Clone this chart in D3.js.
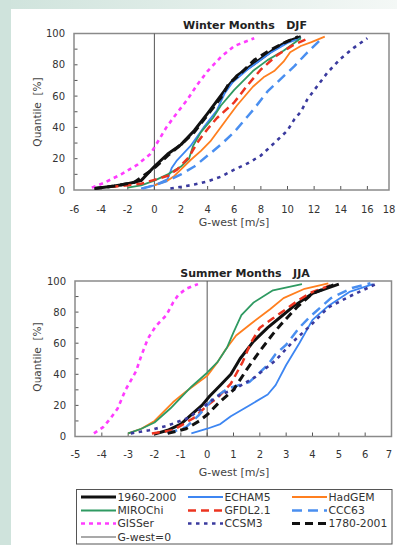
<!DOCTYPE html>
<html>
<head>
<meta charset="utf-8">
<script src="https://cdn.jsdelivr.net/npm/d3@7"></script>
<style>
  html, body { margin: 0; padding: 0; background: #fff; }
  svg { display: block; font-family: "DejaVu Sans", Verdana, sans-serif; }
</style>
</head>
<body>
<svg id="chart" width="397" height="545"></svg>
<script>
// Quantile curves of the westerly geostrophic wind index, [G-west (m/s), quantile (%)]

// Winter months (DJF)
const djf_obs_1960 = [[-4.5,1],[-3,2.5],[-2,4],[-1,6],[0,15],[1,23],[2,29],[3,38],[4,49],[4.7,57],[5.5,66],[6.2,73],[7.7,82],[9,90],[10,95],[11,98]];
const djf_echam5 = [[-1,1],[0,3],[1,7],[1.3,14],[1.7,19],[2.7,28],[3.7,40],[4.7,51],[5.3,62],[5.9,69],[7,77],[8.7,87.5],[10,94],[11,97]];
const djf_hadgem = [[0,3],[1,6],[1.5,9],[2.7,19],[3.5,25],[4.2,31],[5.5,46],[6.2,54],[7.4,66],[8.2,72],[9,76],[9.7,82],[10.2,88],[11,92],[11.8,94.5],[12.8,98]];
const djf_miroc = [[-2,1.5],[-1,3],[0,6],[1,10],[2,15],[2.6,20],[2.9,28],[3.5,37],[4.4,46],[5,54],[6,64],[7.4,76],[8.5,83],[9.7,89],[11,97]];
const djf_gfdl = [[-3.3,2],[-2,3],[-1,4],[0,6.5],[1,9],[1.7,13],[2.6,21],[3.2,30],[4,39],[4.7,46],[6,56],[7,67],[8,77],[9.2,86],[10.5,93],[11.6,97]];
const djf_ccc63 = [[-0.9,1],[0,3],[1,6],[2,10],[3,15],[4,22],[5,29],[6,37],[7,47],[7.5,52],[8.5,63],[9.5,71],[10.5,79],[11.5,88],[12.6,97]];
const djf_giss = [[-4.7,1.5],[-3.8,4.5],[-2.5,10],[-1.3,16],[-0.3,23],[0.2,30],[0.9,40],[1.5,47],[2.5,58],[3.2,67],[4,76],[5,85],[6,92],[7.5,97]];
const djf_ccsm3 = [[1.2,1],[2,2],[3,3.5],[4,5.5],[5,8.5],[6,13],[7,17],[8,22],[9,30],[10,38],[10.5,45],[11,50],[11.5,58],[12.2,66],[13,75],[14,84],[15,91],[16,97]];
const djf_obs_1780 = [[-4.5,1],[-3,2.5],[-1.5,5],[0,14],[1,22],[2,29],[3,37],[4,48],[5,59],[5.6,68],[6.3,73],[7.5,83],[8.6,89],[10,95],[10.8,98]];

// Summer months (JJA)
const jja_obs_1960 = [[-2,1.5],[-1.5,4],[-1,8],[-0.6,14],[-0.2,20],[0.1,26],[0.5,33],[0.9,40],[1.25,50],[1.75,61],[2.3,70],[2.8,77],[3.3,84],[4,92],[5,98]];
const jja_echam5 = [[-0.6,2],[0,5],[0.5,8],[0.9,13],[1.6,20],[2.3,27],[2.6,33],[3,46],[3.5,60],[4,75],[4.6,84],[5.4,93],[6.3,98]];
const jja_hadgem = [[-3,2],[-2.5,5],[-2,10],[-1.3,22],[-0.8,29],[0,39],[0.4,48],[0.7,56],[1.1,65],[1.7,73],[2.4,82],[2.9,89],[3.7,95],[4.6,98.5]];
const jja_miroc = [[-3,2],[-2.5,5],[-2,9],[-1.4,18],[-1,25],[-0.6,32],[0,41],[0.4,48],[0.75,57],[1,67],[1.3,78],[1.75,86],[2.5,94],[3.6,98]];
const jja_gfdl = [[-2.1,2],[-1.3,4],[-0.5,12],[0,20],[0.4,25],[0.9,34],[1.35,48],[1.65,60],[2,70],[2.5,76],[3,82],[3.5,88],[4,93],[4.8,98]];
const jja_ccc63 = [[-1.5,2],[-0.8,6],[-0.3,14],[0.2,24],[0.8,31],[1.6,35],[2.3,46],[2.6,53],[3,59],[3.5,70],[3.9,77],[4.7,89],[5.5,95.5],[6.2,98.5]];
const jja_giss = [[-4.3,2],[-3.95,6],[-3.7,11],[-3.4,18],[-3.1,30],[-2.7,42],[-2.5,52],[-2.25,63],[-1.95,71],[-1.55,78],[-1.3,86],[-1.1,91],[-0.8,95],[-0.35,98]];
const jja_ccsm3 = [[-2.9,2],[-2.2,4],[-1.5,7],[-0.7,12],[0,21],[0.5,27],[1,30],[1.8,38],[2.6,49],[3.2,60],[3.9,71],[4.6,83],[5.4,90],[6.4,98]];
const jja_obs_1780 = [[-1.5,2],[-0.8,5],[-0.3,10],[0,14],[0.4,21],[1,30],[1.5,43],[2,55],[2.5,66],[2.8,72],[3.4,83],[4,92],[4.8,97.5]];

// Axis ticks
const djfXTicks = [-6,-4,-2,0,2,4,6,8,10,12,14,16,18];
const jjaXTicks = [-5,-4,-3,-2,-1,0,1,2,3,4,5,6,7];
const yTicks = [0,20,40,60,80,100];
const yMinorTicks = [10,20,30,40,50,60,70,80,90];

// Series names and styles
const seriesNames = ["1960-2000","ECHAM5","HadGEM","MIROChi","GFDL2.1","CCC63","GISSer","CCSM3","1780-2001"];
const styles = {
  "1960-2000": {color:"#111111", width:3,   dash:null},
  "ECHAM5":    {color:"#3d86f2", width:1.8, dash:null},
  "HadGEM":    {color:"#ff7f1f", width:1.8, dash:null},
  "MIROChi":   {color:"#2f9a62", width:1.8, dash:null},
  "GFDL2.1":   {color:"#ec3420", width:2.5, dash:"8,5"},
  "CCC63":     {color:"#4a8ff0", width:2.5, dash:"10,6"},
  "GISSer":    {color:"#ff3cff", width:2.6, dash:"4,4"},
  "CCSM3":     {color:"#3a3a9e", width:2.6, dash:"3.5,4.5"},
  "1780-2001": {color:"#111111", width:3,   dash:"8,5"},
  "G-west=0":  {color:"#555555", width:1,   dash:null}
};
const djfSeries = [djf_obs_1960, djf_echam5, djf_hadgem, djf_miroc, djf_gfdl, djf_ccc63, djf_giss, djf_ccsm3, djf_obs_1780];
const jjaSeries = [jja_obs_1960, jja_echam5, jja_hadgem, jja_miroc, jja_gfdl, jja_ccc63, jja_giss, jja_ccsm3, jja_obs_1780];

const W = 397;
const svg = d3.select("#chart");

// Page background: tinted left strip and top band, white panel
const defs = svg.append("defs");
const grad = defs.append("linearGradient").attr("id","topband").attr("x1","0").attr("x2","1").attr("y1","0").attr("y2","0");
grad.append("stop").attr("offset","0").attr("stop-color","#cfe3dc");
grad.append("stop").attr("offset","1").attr("stop-color","#f4f8f6");
svg.append("rect").attr("x",0).attr("y",0).attr("width",W).attr("height",545).attr("fill","#ffffff");
svg.append("rect").attr("x",0).attr("y",0).attr("width",W).attr("height",9).attr("fill","url(#topband)");
svg.append("rect").attr("x",0).attr("y",0).attr("width",11).attr("height",545).attr("fill","#cfe3dc");

function panel(opts) {
  const {xDomain, xRange, frameRight, top, bottom, xTicks, series, title, titleY, tickLabelY, xLabelY, yLabelY, clipId} = opts;
  const x = d3.scaleLinear().domain(xDomain).range(xRange);
  const y = d3.scaleLinear().domain([0,100]).range([bottom, top]);
  const left = xRange[0] - 0.5;
  const g = svg.append("g");

  defs.append("clipPath").attr("id", clipId)
    .append("rect").attr("x", left).attr("y", top).attr("width", frameRight - left).attr("height", bottom - top);

  // Inside tick marks
  g.selectAll(".ytick").data(yMinorTicks).join("line")
    .attr("x1", left).attr("x2", left + 3.5)
    .attr("y1", d => y(d)).attr("y2", d => y(d))
    .attr("stroke", "#555").attr("stroke-width", 1);
  g.selectAll(".xtick").data(xTicks.filter(d => x(d) > left + 2 && x(d) < frameRight - 2)).join("line")
    .attr("x1", d => x(d)).attr("x2", d => x(d))
    .attr("y1", bottom).attr("y2", bottom - 4)
    .attr("stroke", "#555").attr("stroke-width", 1);

  // Frame
  g.append("rect").attr("x", left).attr("y", top).attr("width", frameRight - left).attr("height", bottom - top)
    .attr("fill", "none").attr("stroke", "#8a8a8a").attr("stroke-width", 1.5);

  // Zero line
  g.append("line").attr("x1", x(0)).attr("x2", x(0)).attr("y1", top).attr("y2", bottom)
    .attr("stroke", styles["G-west=0"].color).attr("stroke-width", 1);

  // Curves
  const line = d3.line().x(d => x(d[0])).y(d => y(d[1]));
  const cg = g.append("g").attr("clip-path", `url(#${clipId})`);
  series.forEach((data, i) => {
    const s = styles[seriesNames[i]];
    cg.append("path").datum(data).attr("d", line)
      .attr("fill", "none").attr("stroke", s.color).attr("stroke-width", s.width)
      .attr("stroke-dasharray", s.dash).attr("stroke-linejoin", "round");
  });

  // Tick labels (the last one kept inside the page edge)
  g.selectAll(".ylab").data(yTicks).join("text")
    .attr("x", left - 9).attr("y", d => y(d)).attr("dy", "0.36em")
    .attr("text-anchor", "end").attr("font-size", 10).attr("fill", "#333").text(d => d);
  g.selectAll(".xlab").data(xTicks).join("text")
    .attr("x", d => Math.min(x(d), W - 8)).attr("y", tickLabelY)
    .attr("text-anchor", "middle").attr("font-size", 10).attr("fill", "#333").text(d => d);

  // Titles
  g.append("text").attr("x", 245).attr("y", titleY).attr("text-anchor", "middle")
    .attr("font-size", 11).attr("font-weight", "bold").attr("fill", "#222")
    .style("white-space", "pre").text(title);
  g.append("text").attr("x", 234).attr("y", xLabelY).attr("text-anchor", "middle")
    .attr("font-size", 11).attr("fill", "#444").text("G-west [m/s]");
  g.append("text").attr("transform", `translate(41,${yLabelY}) rotate(-90)`).attr("text-anchor", "middle")
    .attr("font-size", 10.5).attr("fill", "#444").style("white-space", "pre").text("Quantile  [%]");
}

panel({xDomain:[-6,18], xRange:[74.5,394], frameRight:389, top:33.5, bottom:190,
  xTicks: djfXTicks, series: djfSeries, title: "Winter Months   DJF", titleY: 29,
  tickLabelY: 213, xLabelY: 226, yLabelY: 112, clipId: "clipDJF"});

panel({xDomain:[-5,7], xRange:[75.5,391.5], frameRight:391.5, top:281, bottom:436.5,
  xTicks: jjaXTicks, series: jjaSeries, title: "Summer Months   JJA", titleY: 276.5,
  tickLabelY: 458, xLabelY: 476, yLabelY: 357, clipId: "clipJJA"});

// Legend
const legendItems = seriesNames.concat(["G-west=0"]);
const colX = [81, 188, 292];
const rowY = [497, 510.5, 523.5, 537];
const lg = svg.append("g");
lg.append("rect").attr("x", 76.5).attr("y", 489.5).attr("width", 315.5).attr("height", 54.5)
  .attr("fill", "#fff").attr("stroke", "#555").attr("stroke-width", 1);
legendItems.forEach((name, i) => {
  const cx = colX[i % 3], cy = rowY[Math.floor(i / 3)];
  const s = styles[name];
  lg.append("line").attr("x1", cx).attr("x2", cx + 35).attr("y1", cy).attr("y2", cy)
    .attr("stroke", s.color).attr("stroke-width", name === "G-west=0" ? 1.2 : Math.min(s.width, 3))
    .attr("stroke-dasharray", s.dash);
  lg.append("text").attr("x", cx + 36.5).attr("y", cy).attr("dy", "0.36em")
    .attr("font-size", 10.8).attr("fill", "#333").text(name);
});
</script>
</body>
</html>
